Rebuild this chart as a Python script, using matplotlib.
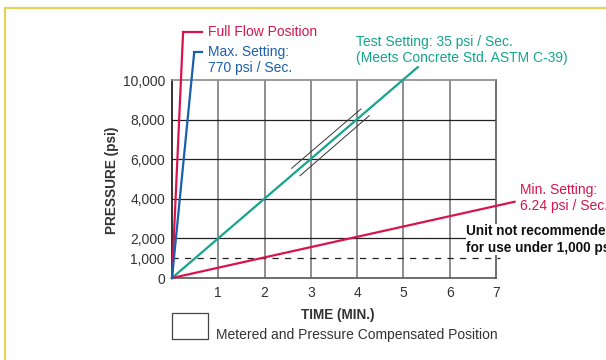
import matplotlib.pyplot as plt
from matplotlib.patches import Rectangle
from matplotlib.lines import Line2D

plt.rcParams['font.family'] = ['Liberation Sans', 'DejaVu Sans']

# data (x in minutes, y in psi)
x_ticks = [1, 2, 3, 4, 5, 6, 7]
y_ticks = [0, 1000, 2000, 4000, 6000, 8000, 10000]
y_labels = ['0', '1,000', '2,000', '4,000', '6,000', '8,000', '10,000']
grid_y = [2000, 4000, 6000, 8000]

full_flow_x = [0, 0.24]
full_flow_y = [0, 12420]
max_x = [0, 0.48]
max_y = [0, 11400]
test_x = [0, 5.31]
test_y = [0, 10650]
min_x = [0, 7.4]
min_y = [0, 3850]

# the two thin guide lines either side of the test line
guide_upper_x = [2.585, 4.082]
guide_upper_y = [5540, 8535]
guide_lower_x = [2.765, 4.262]
guide_lower_y = [5165, 8197]

limit_psi = 1000

RED = '#d8144c'
BLUE = '#1a5fae'
TEAL = '#14a58c'
TXT = '#333333'

W, H = 606, 360
fig = plt.figure(figsize=(W / 100, H / 100), dpi=100)
ax = fig.add_axes([172 / W, 1 - 278 / H, 324 / W, 198 / H])
ax.set_xlim(0, 7)
ax.set_ylim(0, 10000)

# grid
for gx in x_ticks[:-1]:
    ax.axvline(gx, color='#7a7a7a', lw=1.2, zorder=1)
for gy in grid_y:
    ax.axhline(gy, color='#222222', lw=0.9, zorder=1)
ax.spines['left'].set_color('#111111')
ax.spines['bottom'].set_color('#555555')
ax.spines['top'].set_color('#8a8a8a')
ax.spines['right'].set_color('#555555')
for s in ax.spines.values():
    s.set_linewidth(1.2)

ax.plot([0, 7.08], [limit_psi, limit_psi], color='#222222', lw=0.9,
        dashes=(5, 5), clip_on=False, zorder=2)

ax.plot(full_flow_x, full_flow_y, color=RED, lw=1.6, clip_on=False, zorder=4)
ax.plot(max_x, max_y, color=BLUE, lw=1.6, clip_on=False, zorder=4)
ax.plot(test_x, test_y, color=TEAL, lw=1.6, clip_on=False, zorder=3)
ax.plot(min_x, min_y, color=RED, lw=1.6, clip_on=False, zorder=3)
ax.plot(guide_upper_x, guide_upper_y, color='#333333', lw=0.7, zorder=3)
ax.plot(guide_lower_x, guide_lower_y, color='#333333', lw=0.7, zorder=3)

# leaders to labels
ax.plot([full_flow_x[1], 0.65], [full_flow_y[1]] * 2, color=RED, lw=1.6, clip_on=False)
ax.plot([max_x[1], 0.65], [max_y[1]] * 2, color=BLUE, lw=1.6, clip_on=False)

ax.set_xticks(x_ticks)
ax.set_xticklabels([str(v) for v in x_ticks])
ax.set_yticks(y_ticks)
ax.set_yticklabels(y_labels)
ax.tick_params(length=0, labelsize=10, labelcolor=TXT)
ax.tick_params(axis='y', pad=5)
ax.tick_params(axis='x', pad=6)

ax.set_ylabel('PRESSURE (psi)', fontsize=9.8, fontweight='bold', color=TXT, va='center')
ax.yaxis.set_label_coords(-0.185, 0.495)
ax.set_xlabel('TIME (MIN.)', fontsize=9.8, fontweight='bold', color=TXT, va='center')
ax.xaxis.set_label_coords(0.512, -0.187)

fs = 10
ax.text(0.78, 12420, 'Full Flow Position', color=RED, fontsize=fs,
        va='center', ha='left', clip_on=False)
ax.text(0.78, 11010, 'Max. Setting:\n770 psi / Sec.', color=BLUE, fontsize=fs,
        va='center', ha='left', clip_on=False)
ax.text(3.97, 11500, 'Test Setting: 35 psi / Sec.\n(Meets Concrete Std. ASTM C-39)',
        color=TEAL, fontsize=fs, va='center', ha='left', clip_on=False)
ax.text(7.52, 4040, 'Min. Setting:\n6.24 psi / Sec.', color=RED, fontsize=fs,
        va='center', ha='left', clip_on=False)
ax.text(6.36, 1944, 'Unit not recommended\nfor use under 1,000 psi', color='#111111',
        fontsize=9.8, fontweight='bold', va='center', ha='left', clip_on=False,
        bbox=dict(facecolor='white', edgecolor='none', pad=0.5))

# legend box below the chart
ax.add_patch(Rectangle((0, -3080), 0.78, 1310, facecolor='white', edgecolor='#444444',
                       lw=0.9, clip_on=False))
ax.text(0.95, -2880, 'Metered and Pressure Compensated Position', color=TXT,
        fontsize=fs, va='center', ha='left', clip_on=False)

# yellow frame around the page
fig.add_artist(Line2D([5 / W, 5 / W], [0, 1 - 7.5 / H], color='#e0d55a', lw=1.6))
fig.add_artist(Line2D([5 / W, 1], [1 - 7.5 / H, 1 - 7.5 / H], color='#e0d55a', lw=1.6))

fig.savefig('out.png', dpi=100)
